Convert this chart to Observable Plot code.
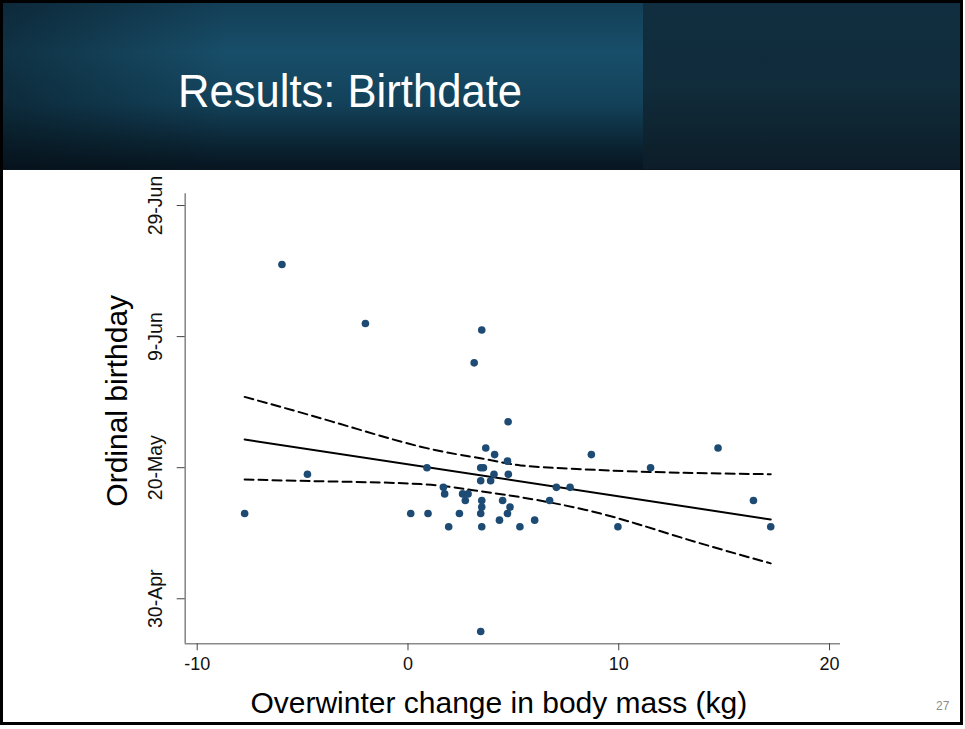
<!DOCTYPE html>
<html>
<head>
<meta charset="utf-8">
<script src="https://cdn.jsdelivr.net/npm/d3@7"></script>
<script src="https://cdn.jsdelivr.net/npm/@observablehq/plot@0.6"></script>
<style>
  html, body { margin: 0; padding: 0; background: #fff; }
  body { width: 965px; height: 729px; position: relative; overflow: hidden; font-family: "Liberation Sans", Arial, sans-serif; }
  #slide { position: absolute; left: 0; top: 0; width: 963px; height: 725px; box-sizing: border-box; border: 3px solid #000; background: #fff; }
  #hdrLeft { position: absolute; left: 3px; top: 3px; width: 640px; height: 166px;
    background:
      linear-gradient(to right, rgba(5,15,22,0.45) 0%, rgba(5,15,22,0.0) 35%),
      linear-gradient(to bottom, #133f57 0%, #184e69 30%, #13425a 60%, #0b2534 85%, #071520 100%); }
  #hdrRight { position: absolute; left: 643px; top: 3px; width: 317px; height: 166px;
    background: linear-gradient(to bottom, #102e3f 0%, #112c3b 50%, #0c1d28 100%); }
  #hdrLine { position: absolute; left: 3px; top: 169px; width: 957px; height: 1px; background: #0a1720; }
  #title { position: absolute; left: 178px; top: 64px; color: #fff; font-family: "Liberation Sans", Arial, sans-serif;
    font-size: 46px; line-height: 54px; white-space: nowrap; transform-origin: left center; }
  #pagenum { position: absolute; left: 936px; top: 699px; font-size: 12px; color: #8c8c8c; font-family: "Liberation Sans", Arial, sans-serif; }
  #chart { position: absolute; left: 0; top: 170px; }
</style>
</head>
<body>
<div id="slide"></div>
<div id="hdrLeft"></div>
<div id="hdrRight"></div>
<div id="hdrLine"></div>
<div id="title">Results: Birthdate</div>
<div id="pagenum">27</div>
<div id="chart"></div>
<script>
// ---- Data ----
const massChange = [-5.98, -2.02, 3.50, 3.14, 4.75, -4.77, 3.69, 4.11, 4.72, 8.70,
  14.71, 11.51, 0.90, 3.58, 3.45, 4.08, 4.76, 3.45, 3.92, 1.68,
  1.74, 7.04, 7.69, 2.59, 2.85, 2.72, 3.50, 4.49, 6.72, 16.39,
  3.50, 4.84, 0.13, 0.95, 2.44, 3.45, 4.72, -7.75, 4.34, 6.01,
  1.93, 3.50, 5.31, 9.96, 17.21, 3.45];
const birthDay = [171, 162, 161, 156, 147, 139, 143, 142, 141, 142,
  143, 140, 140, 140, 140, 139, 139, 138, 138, 137,
  136, 137, 137, 136, 136, 135, 135, 135, 135, 135,
  134, 134, 133, 133, 133, 133, 133, 133, 132, 132,
  131, 131, 131, 131, 131, 115];

const fitX = [-7.75, 17.21];
const fitY = [144.3, 132.1];
const upperX = [-7.75, -3.67, 0.6, 3.5, 5.34, 8.0, 11.5, 17.21];
const upperY = [150.8, 147.1, 143.2, 141.4, 140.35, 139.8, 139.35, 139.0];
const lowerX = [-7.75, -3.67, 0.6, 3.0, 5.34, 9.14, 13.0, 17.21];
const lowerY = [138.2, 137.9, 137.5, 136.6, 135.5, 133.0, 129.3, 125.4];

const xTicks = [-10, 0, 10, 20];
const yTickDays = [120, 140, 160, 180];
const yTickLabels = ["30-Apr", "20-May", "9-Jun", "29-Jun"];
const xDomain = [-10.57, 20.52];
const yDomain = [113.13, 181.79];
const xLabel = "Overwinter change in body mass (kg)";
const yLabel = "Ordinal birthday";

const points = massChange.map((x, i) => ({x, y: birthDay[i]}));
const fit = fitX.map((x, i) => ({x, y: fitY[i]}));
const upper = upperX.map((x, i) => ({x, y: upperY[i]}));
const lower = lowerX.map((x, i) => ({x, y: lowerY[i]}));
const yTicks = yTickDays.map((d, i) => ({d, label: yTickLabels[i]}));

const chart = Plot.plot({
  width: 965,
  height: 559,
  marginLeft: 184.7,
  marginRight: 125,
  marginTop: 23.3,
  marginBottom: 85.7,
  x: {domain: xDomain},
  y: {domain: yDomain},
  style: {fontFamily: "Liberation Sans, Arial, sans-serif", fontSize: "18px", color: "#111", background: "transparent"},
  marks: [
    Plot.ruleY([yDomain[0]], {stroke: "#8a8a8a", strokeWidth: 1.6}),
    Plot.ruleX([xDomain[0]], {stroke: "#8a8a8a", strokeWidth: 1.6}),
    Plot.axisX({ticks: xTicks, tickSize: 7, tickPadding: 6, tickFormat: d => String(d), label: null, stroke: "#444", fill: "#111", fontSize: 18}),
    Plot.axisY({ticks: yTickDays, tickSize: 8, tickFormat: () => "", label: null, stroke: "#444"}),
    Plot.text(yTicks, {x: xDomain[0], y: "d", text: "label", rotate: -90, dx: -29.7, textAnchor: "middle", lineAnchor: "middle", fontSize: 19.5, fill: "#111"}),
    Plot.text([yLabel], {frameAnchor: "left", rotate: -90, dx: -68, dy: -18, textAnchor: "middle", lineAnchor: "middle", fontSize: 30, fill: "#000"}),
    Plot.text([xLabel], {frameAnchor: "bottom", dx: -14, dy: 68.7, lineAnchor: "bottom", fontSize: 30, fill: "#000"}),
    Plot.line(upper, {x: "x", y: "y", curve: "natural", stroke: "#000", strokeWidth: 2, strokeDasharray: "9,5"}),
    Plot.line(lower, {x: "x", y: "y", curve: "natural", stroke: "#000", strokeWidth: 2, strokeDasharray: "9,5"}),
    Plot.line(fit, {x: "x", y: "y", stroke: "#000", strokeWidth: 2}),
    Plot.dot(points, {x: "x", y: "y", r: 3.8, fill: "#1d4b73", stroke: "none"})
  ]
});
document.getElementById("chart").appendChild(chart);

// fit the title width to the reference (~344px)
const t = document.getElementById("title");
const w = t.getBoundingClientRect().width;
if (w > 0) t.style.transform = `scaleX(${344 / w})`;
</script>
</body>
</html>
